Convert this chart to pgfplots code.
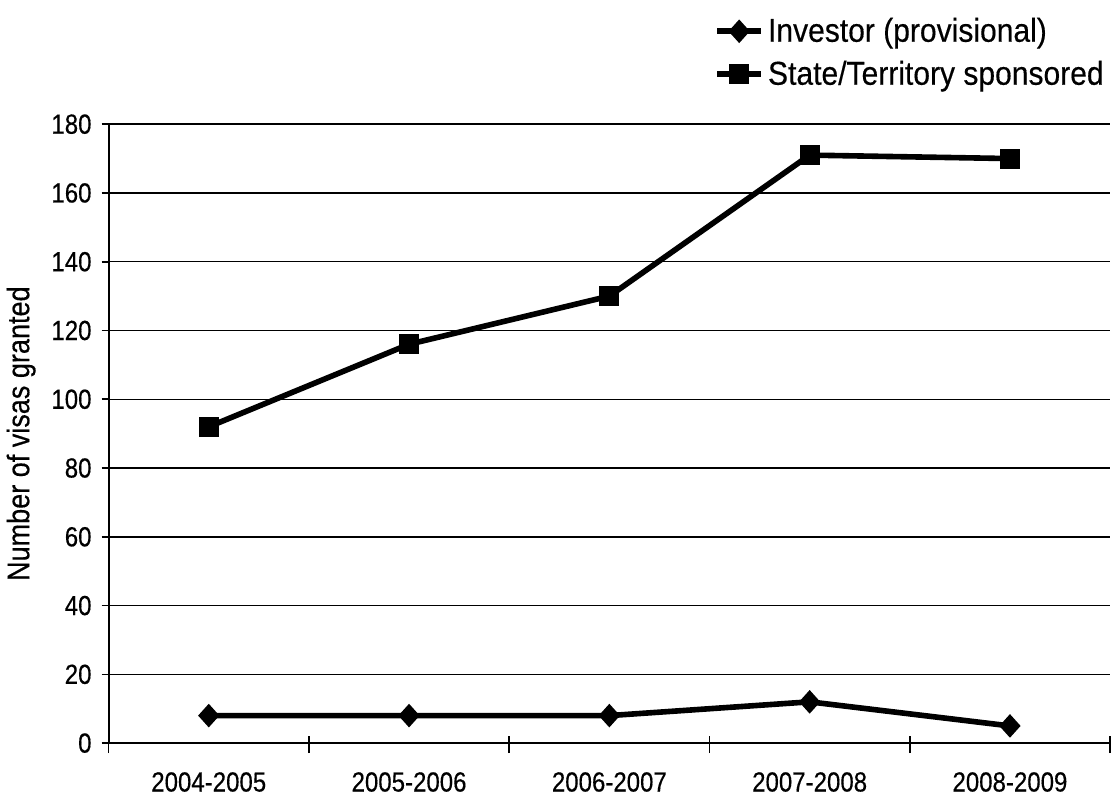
\documentclass[border=0pt]{standalone}
\usepackage{pgfplots}
\pgfplotsset{compat=1.18}
\usepackage{graphicx}
\usepackage{fontspec}
\setmainfont{Liberation Sans}[FakeBold=0.4]
% slightly tall lettering
\newcommand{\tall}[1]{\scalebox{1}[1.15]{#1}}
\begin{document}
\begin{tikzpicture}
\begin{axis}[
  scale only axis,
  width=500pt, height=309pt,
  xmin=-0.5, xmax=4.5,
  ymin=0, ymax=180,
  ytick={0,20,...,180},
  xtick={0,1,2,3,4},
  xticklabels={\tall{2004-2005},\tall{2005-2006},\tall{2006-2007},\tall{2007-2008},\tall{2008-2009}},
  yticklabel={\tall{\pgfmathprintnumber{\tick}}},
  minor xtick={-0.5,0.5,1.5,2.5,3.5,4.5},
  axis lines=left,
  axis line style={-, black, line width=0.9pt},
  tick align=outside,
  major tick length=3.5pt,
  minor tick length=8.5pt,
  major x tick style={draw=none},
  minor x tick style={black, line width=0.8pt, yshift=3.5pt},
  y tick style={black, line width=0.8pt},
  ymajorgrids,
  major grid style={black, line width=0.7pt},
  tick label style={font=\fontsize{12}{14}\selectfont},
  xticklabel shift=7.5pt,
  yticklabel shift=1.5pt,
  /pgf/number format/assume math mode=true,
  ylabel={\tall{Number of visas granted}},
  ylabel style={font=\fontsize{13.5}{16}\selectfont},
  ylabel shift=1pt,
  legend style={draw=none, fill=none, at={(1,1)}, anchor=south east,
    yshift=16pt, xshift=-1pt, inner sep=0pt, row sep=4pt,
    font=\fontsize{15}{18}\selectfont},
  legend cell align=left,
  legend image code/.code={\draw[mark repeat=2, mark phase=2]
    plot coordinates {(0pt,0pt) (11pt,0pt) (22pt,0pt)};},
]
\addplot[black, line width=2.8pt, mark=diamond*, mark size=5.3pt,
  mark options={solid, line width=0.8pt, xscale=1.2}]
  coordinates {(0,8) (1,8) (2,8) (3,12) (4,5)};
\addlegendentry{\scalebox{1}[1.1]{Investor (provisional)}}
\addplot[black, line width=2.8pt, mark=square*, mark size=4.6pt,
  mark options={solid, line width=0.8pt}]
  coordinates {(0,92) (1,116) (2,130) (3,171) (4,170)};
\addlegendentry{\scalebox{1}[1.1]{State/Territory sponsored}}
\end{axis}
% page margins above the legend and below the year labels
\path (0pt,371pt) (0pt,-28pt);
\end{tikzpicture}
\end{document}
